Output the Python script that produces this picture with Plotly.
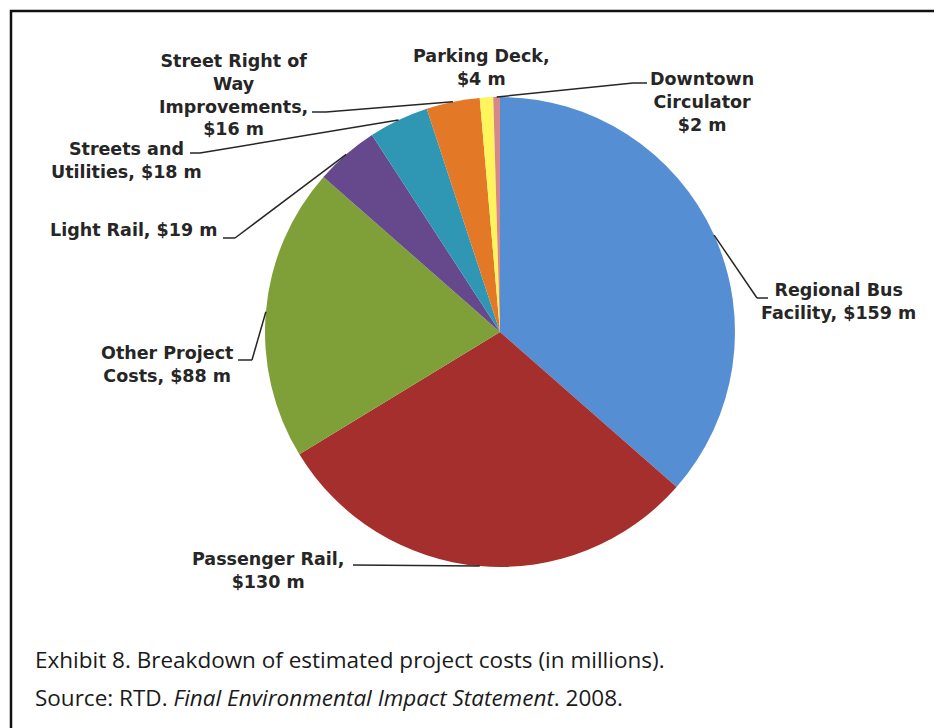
import numpy as np
import plotly.graph_objects as go

# project cost breakdown, $ millions (clockwise from 12 o'clock)
categories = ["Regional Bus Facility", "Passenger Rail", "Other Project Costs",
              "Light Rail", "Streets and Utilities",
              "Street Right of Way Improvements", "Parking Deck",
              "Downtown Circulator"]
costs = [159, 130, 88, 19, 18, 16, 4, 2]
labels = ["Regional Bus<br>Facility, $159 m",
          "Passenger Rail,<br>$130 m",
          "Other Project<br>Costs, $88 m",
          "Light Rail, $19 m",
          "Streets and<br>Utilities, $18 m",
          "Street Right of<br>Way<br>Improvements,<br>$16 m",
          "Parking Deck,<br>$4 m",
          "Downtown<br>Circulator<br>$2 m"]
colors = ["#568ED4", "#A52F2D", "#7FA038", "#66498C",
          "#2F97B4", "#E37826", "#FFF45C", "#D88787"]

caption = "Exhibit 8. Breakdown of estimated project costs (in millions)."
source = "Source: RTD. <i>Final Environmental Impact Statement</i>. 2008."

# page body has an 8px margin, so the figure is offset by OFF
OFF = 8
W, H = 942 - OFF, 728 - OFF
CX, CY, R = 500, 332, 235


# page pixel -> paper
def pp(x, y):
    return (x - OFF) / W, 1 - (y - OFF) / H


# label centre (px) and leader: start of underline, elbow (None = no leader)
label_pos = [(838, 301), (268, 570), (167, 364), (133, 230),
             (126, 160), (233, 95), (481, 67), (702, 102)]
leaders = [((768, 298), (757, 298)), ((353, 565), (353, 565)),
           ((238, 360), (252, 360)), ((223, 238), (235, 238)),
           ((190, 153), (200, 153)), ((312, 112), (326, 112)),
           None, ((647, 83), (633, 83))]

dx0, dy1 = pp(CX - R, CY - R)
dx1, dy0 = pp(CX + R, CY + R)
fig = go.Figure(go.Pie(
    labels=categories, values=costs, sort=False, direction="clockwise",
    rotation=0, textinfo="none", hoverinfo="skip", showlegend=False,
    marker=dict(colors=colors, line=dict(width=0)),
    domain=dict(x=[dx0, dx1], y=[dy0, dy1]),
))

# leader anchors at slice mid-angle on the rim
total = sum(costs)
cum = np.cumsum([0] + costs)
mid = (cum[:-1] + cum[1:]) / 2 / total * 2 * np.pi
anchor_x = CX + R * np.sin(mid)
anchor_y = CY - R * np.cos(mid)

shapes = []
for i, ld in enumerate(leaders):
    if ld is None:
        continue
    pts = [ld[0], ld[1], (anchor_x[i], anchor_y[i])]
    for a, b in zip(pts[:-1], pts[1:]):
        x0, y0 = pp(*a)
        x1, y1 = pp(*b)
        shapes.append(dict(type="line", xref="paper", yref="paper",
                           x0=x0, y0=y0, x1=x1, y1=y1,
                           line=dict(color="#262626", width=1.5)))

# outer frame (runs off the right/bottom edge)
fx0, fy0 = pp(11, 11)
fx1, fy1 = pp(960, 760)
shapes.append(dict(type="rect", xref="paper", yref="paper",
                   x0=fx0, y0=fy1, x1=fx1, y1=fy0,
                   line=dict(color="#111111", width=2.5)))

annotations = []
for txt, (x, y) in zip(labels, label_pos):
    ax, ay = pp(x, y)
    annotations.append(dict(x=ax, y=ay, xref="paper", yref="paper",
                            text=txt, showarrow=False, align="center",
                            xanchor="center", yanchor="middle",
                            font=dict(family="DejaVu Sans", size=17.5,
                                      color="#262626", weight="bold")))

for txt, y in [(caption, 659), (source, 697)]:
    ax, ay = pp(33, y)
    annotations.append(dict(x=ax, y=ay, xref="paper", yref="paper",
                            text=txt, showarrow=False, xanchor="left",
                            yanchor="middle",
                            font=dict(family="Open Sans", size=22.5,
                                      color="#1a1a1a")))

fig.update_layout(width=W, height=H, margin=dict(l=0, r=0, t=0, b=0),
                  paper_bgcolor="white", plot_bgcolor="white",
                  shapes=shapes, annotations=annotations)

fig.write_html("out.html")
